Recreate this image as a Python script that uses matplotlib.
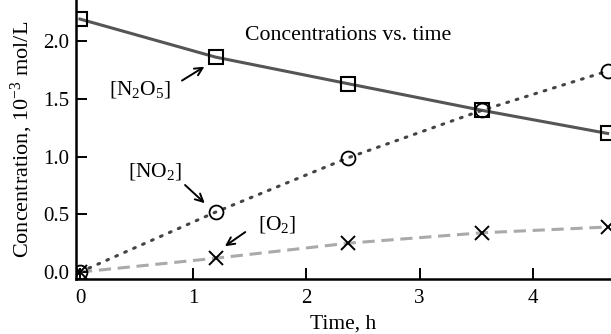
import matplotlib
matplotlib.use('Agg')
from matplotlib import pyplot as plt

# values (time in h, conc in 10^-3 mol/L)
time = [0, 1.2, 2.37, 3.55, 4.66]
n2o5 = [2.19, 1.86, 1.63, 1.40, 1.20]
no2 = [0, 0.52, 0.99, 1.40, 1.74]
o2 = [0, 0.12, 0.25, 0.34, 0.39]

x_ticks = [0, 1, 2, 3, 4]
y_ticks = [0.0, 0.5, 1.0, 1.5, 2.0]

plt.rcParams['font.family'] = ['Liberation Serif', 'DejaVu Serif']
plt.rcParams['mathtext.fontset'] = 'custom'
plt.rcParams['mathtext.rm'] = 'Liberation Serif'
plt.rcParams['mathtext.it'] = 'Liberation Serif:italic'

fig = plt.figure(figsize=(6.11, 3.34), dpi=100)
# the scan crops the plot on the top and right, so the axes run off the figure
ax = fig.add_axes([76 / 611, 55 / 334, 1 - 76 / 611, 1 - 55 / 334])

ax.plot(time, n2o5, color='#555555', lw=2.2, zorder=2)
ax.plot(time, no2, color='#444444', lw=2.2, ls=(0, (0.6, 2.6)), dash_capstyle='round', zorder=2)
ax.plot(time, o2, color='#aaaaaa', lw=2.2, ls=(0, (4, 2.2)), zorder=1)

ax.plot(time, n2o5, ls='none', marker='s', ms=10.5, mfc='none', mec='black', mew=1.5, zorder=3)
ax.plot(time, no2, ls='none', marker='o', ms=10, mfc='none', mec='black', mew=1.3, zorder=3)
ax.plot(time, o2, ls='none', marker='x', ms=10.5, mec='black', mew=1.4, zorder=3)

ax.set_xlim(-0.035, 4.69)
ax.set_ylim(-0.06, 2.355)
ax.set_xticks(x_ticks)
ax.set_yticks(y_ticks)
ax.set_xticklabels([str(t) for t in x_ticks])
ax.set_yticklabels(['%.1f' % v for v in y_ticks])
ax.tick_params(direction='in', length=8, width=1.4, labelsize=15, colors='black')
ax.tick_params(axis='x', pad=7)
ax.tick_params(axis='y', pad=5)

for side in ['top', 'right']:
    ax.spines[side].set_visible(False)
for side in ['left', 'bottom']:
    ax.spines[side].set_linewidth(1.8)

ax.set_xlabel('Time, h', fontsize=15.5, labelpad=5)
ax.set_ylabel('Concentration, 10$^{-3}$ mol/L', fontsize=16, labelpad=6)

ax.text(2.37, 2.05, 'Concentrations vs. time', fontsize=15.7, ha='center', va='center')

# labels with arrows
arrow = dict(arrowstyle='->', color='black', lw=1.4, mutation_scale=14)
ax.text(0.53, 1.58, '[N$_2$O$_5$]', fontsize=15.5, ha='center', va='center')
ax.annotate('', xy=(1.12, 1.79), xytext=(0.88, 1.645), arrowprops=arrow)
ax.text(0.66, 0.87, '[NO$_2$]', fontsize=15.5, ha='center', va='center')
ax.annotate('', xy=(1.12, 0.58), xytext=(0.91, 0.77), arrowprops=arrow)
ax.text(1.74, 0.41, '[O$_2$]', fontsize=15.5, ha='center', va='center')
ax.annotate('', xy=(1.26, 0.21), xytext=(1.48, 0.36), arrowprops=arrow)

fig.savefig('out.png', dpi=100)
